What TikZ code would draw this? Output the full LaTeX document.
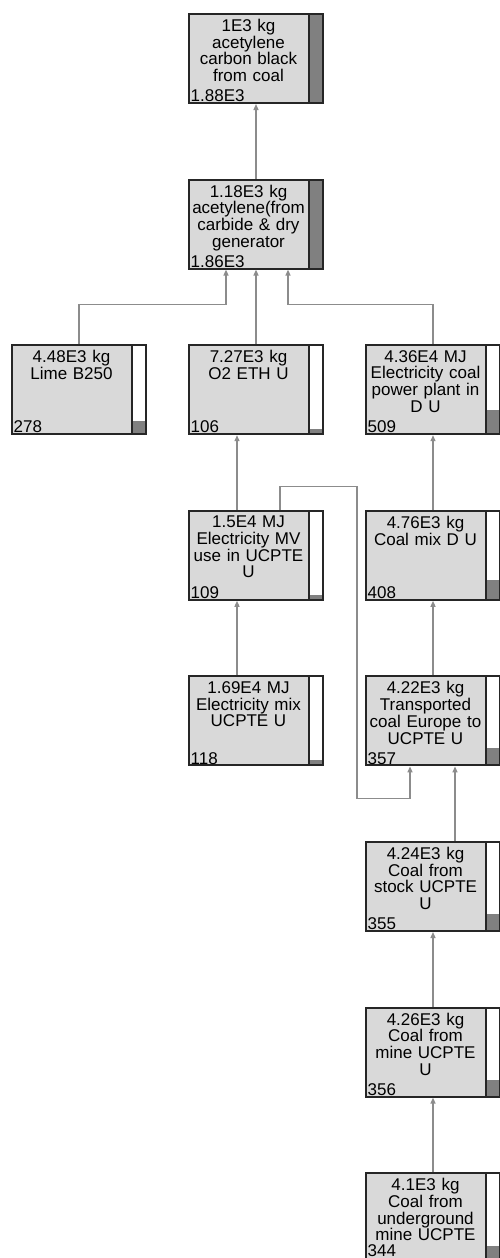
\documentclass[tikz,border=0pt]{standalone}
\usepackage{fontspec}
\setmainfont{Liberation Sans}
\usetikzlibrary{arrows.meta,positioning}

\begin{document}
\begin{tikzpicture}[
    x=1pt, y=-1pt,
    proc/.style={
        rectangle, draw=black!85, line width=2pt,
        minimum width=134pt, minimum height=89pt,
        inner sep=0pt, fill=gray!30,
        path picture={
            \fill[white] ([xshift=-15pt]path picture bounding box.north east) rectangle (path picture bounding box.south east);
            \fill[black!50] ([xshift=-15pt]path picture bounding box.south east) rectangle ([yshift=#1*89pt]path picture bounding box.south east);
            \draw[line width=2pt, black!85] ([xshift=-14pt]path picture bounding box.north east) -- ([xshift=-14pt]path picture bounding box.south east);
        },
    },
    ptext/.style={anchor=north, text width=115pt, align=center, inner sep=0pt},
    pscore/.style={anchor=south west, inner sep=0pt},
    arr/.style={-{Triangle[length=6pt,width=5pt]}, line width=1.3pt, draw=gray!90},
    font=\fontsize{17}{16.7}\selectfont,
]

\path[use as bounding box, fill=white] (0,0) rectangle (500,1258);
\clip (0,0) rectangle (500,1258);

% Product
\node[proc=1, anchor=north] (cb) at (256,13) {};
\node[ptext] (cbt) at ([xshift=-7.5pt,yshift=-6pt]cb.north) {1E3 kg\\acetylene\\carbon black\\from coal};
\node[pscore] (cbs) at ([xshift=2.5pt,yshift=2pt]cb.south west) {1.88E3};

\node[proc=0.989, below=74.6pt of cb] (acet) {};
\node[ptext] (acett) at ([xshift=-7.5pt,yshift=-6pt]acet.north) {1.18E3 kg\\acetylene(from\\carbide \& dry\\generator};
\node[pscore] (acets) at ([xshift=2.5pt,yshift=2pt]acet.south west) {1.86E3};

% Inputs of acetylene
\node[proc=0.056, below=74.6pt of acet] (o2) {};
\node[ptext] (o2t) at ([xshift=-7.5pt,yshift=-6pt]o2.north) {7.27E3 kg\\O2 ETH U};
\node[pscore] (o2s) at ([xshift=2.5pt,yshift=2pt]o2.south west) {106};

\node[proc=0.148, left=41pt of o2] (lime) {};
\node[ptext] (limet) at ([xshift=-7.5pt,yshift=-6pt]lime.north) {4.48E3 kg\\Lime B250};
\node[pscore] (limes) at ([xshift=2.5pt,yshift=2pt]lime.south west) {278};

\node[proc=0.271, right=41pt of o2] (ecoal) {};
\node[ptext] (ecoalt) at ([xshift=-7.5pt,yshift=-6pt]ecoal.north) {4.36E4 MJ\\Electricity coal\\power plant in\\D U};
\node[pscore] (ecoals) at ([xshift=2.5pt,yshift=2pt]ecoal.south west) {509};

% Electricity and coal chain
\node[proc=0.058, below=74.6pt of o2] (elmv) {};
\node[ptext] (elmvt) at ([xshift=-7.5pt,yshift=-6pt]elmv.north) {1.5E4 MJ\\Electricity MV\\use in UCPTE\\U};
\node[pscore] (elmvs) at ([xshift=2.5pt,yshift=2pt]elmv.south west) {109};

\node[proc=0.217, below=74.6pt of ecoal] (cmix) {};
\node[ptext] (cmixt) at ([xshift=-7.5pt,yshift=-6pt]cmix.north) {4.76E3 kg\\Coal mix D U};
\node[pscore] (cmixs) at ([xshift=2.5pt,yshift=2pt]cmix.south west) {408};

\node[proc=0.063, below=74.6pt of elmv] (elmix) {};
\node[ptext] (elmixt) at ([xshift=-7.5pt,yshift=-6pt]elmix.north) {1.69E4 MJ\\Electricity mix\\UCPTE U};
\node[pscore] (elmixs) at ([xshift=2.5pt,yshift=2pt]elmix.south west) {118};

\node[proc=0.19, below=74.6pt of cmix] (trans) {};
\node[ptext] (transt) at ([xshift=-7.5pt,yshift=-6pt]trans.north) {4.22E3 kg\\Transported\\coal Europe to\\UCPTE U};
\node[pscore] (transs) at ([xshift=2.5pt,yshift=2pt]trans.south west) {357};

\node[proc=0.189, below=74.6pt of trans] (stock) {};
\node[ptext] (stockt) at ([xshift=-7.5pt,yshift=-6pt]stock.north) {4.24E3 kg\\Coal from\\stock UCPTE\\U};
\node[pscore] (stocks) at ([xshift=2.5pt,yshift=2pt]stock.south west) {355};

\node[proc=0.189, below=74.6pt of stock] (mine) {};
\node[ptext] (minet) at ([xshift=-7.5pt,yshift=-6pt]mine.north) {4.26E3 kg\\Coal from\\mine UCPTE\\U};
\node[pscore] (mines) at ([xshift=2.5pt,yshift=2pt]mine.south west) {356};

\node[proc=0.183, below=74.6pt of mine] (ugr) {};
\node[ptext] (ugrt) at ([xshift=-7.5pt,yshift=-6pt]ugr.north) {4.1E3 kg\\Coal from\\underground\\mine UCPTE};
\node[pscore] (ugrs) at ([xshift=2.5pt,yshift=6pt]ugr.south west) {344};

% Flows
\draw[arr] (acet.north) -- (cb.south);
\draw[arr] (lime.north) |- ([xshift=-30pt,yshift=-35pt]acet.south) -- ([xshift=-30pt]acet.south);
\draw[arr] (o2.north) -- (acet.south);
\draw[arr] (ecoal.north) |- ([xshift=32pt,yshift=-35pt]acet.south) -- ([xshift=32pt]acet.south);
\draw[arr] ([xshift=-19pt]elmv.north) -- ([xshift=-19pt]o2.south);
\draw[arr] ([xshift=24pt]elmv.north) -- ++(0,-23) -| ([xshift=-76pt,yshift=-32pt]trans.south) -| ([xshift=-23pt]trans.south);
\draw[arr] (cmix.north) -- (ecoal.south);
\draw[arr] ([xshift=-19pt]elmix.north) -- ([xshift=-19pt]elmv.south);
\draw[arr] (trans.north) -- (cmix.south);
\draw[arr] ([xshift=22pt]stock.north) -- ([xshift=22pt]trans.south);
\draw[arr] (mine.north) -- (stock.south);
\draw[arr] (ugr.north) -- (mine.south);

\end{tikzpicture}
\end{document}
